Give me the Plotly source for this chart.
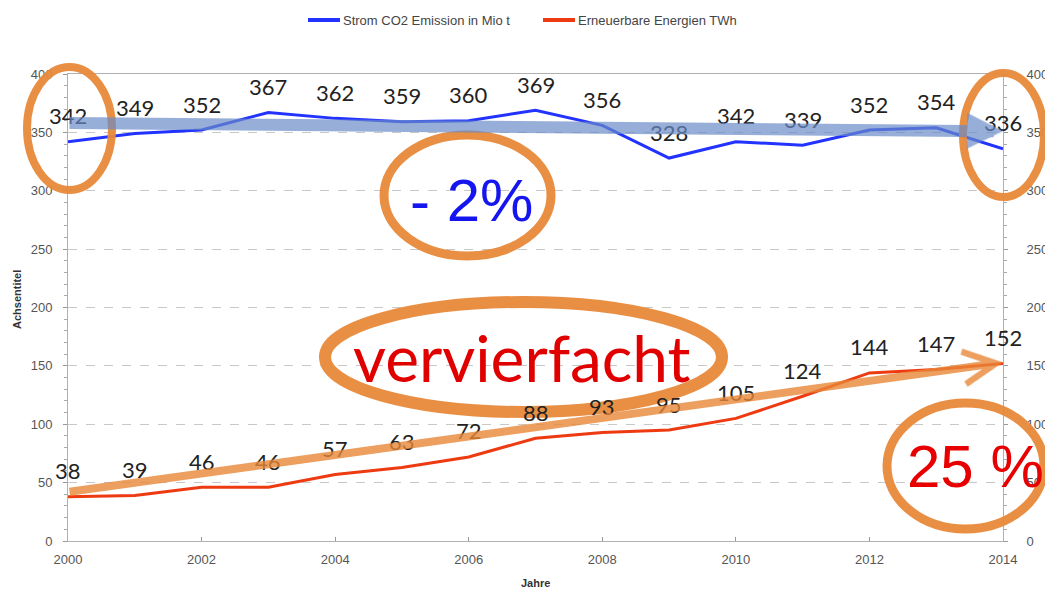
import plotly.graph_objects as go

years = list(range(2000, 2015))
co2 = [342, 349, 352, 367, 362, 359, 360, 369, 356, 328, 342, 339, 352, 354, 336]
renew = [38, 39, 46, 46, 57, 63, 72, 88, 93, 95, 105, 124, 144, 147, 152]
y_ticks = [0, 50, 100, 150, 200, 250, 300, 350, 400]
x_ticks = [2000, 2002, 2004, 2006, 2008, 2010, 2012, 2014]
series_names = ["Strom CO2 Emission in Mio t", "Erneuerbare Energien TWh"]
series_colors = ["#2233ff", "#ee3a10"]

# the page body has an 8px margin; the figure starts at (8, 8)
OFF = 8
W, H = 1053 - OFF, 590 - OFF
PL, PR, PT, PB = 68, 1003, 74, 541  # plot area in screen pixels
L, T = PL - OFF, PT - OFF
R, B = W + OFF - PR, H + OFF - PB
PW, PH = PR - PL, PB - PT


def px(xp):
    return (xp - PL) / PW


def py(yp):
    return (PB - yp) / PH


fig = go.Figure()
fig.add_trace(go.Scatter(x=years, y=co2, mode="lines", name=series_names[0],
                         line=dict(color=series_colors[0], width=3)))
fig.add_trace(go.Scatter(x=years, y=renew, mode="lines", name=series_names[1],
                         line=dict(color=series_colors[1], width=3)))
# invisible trace for right axis
fig.add_trace(go.Scatter(x=years, y=co2, yaxis="y2", mode="lines", showlegend=False,
                         line=dict(color="rgba(0,0,0,0)"), hoverinfo="skip"))

annotations = []
shapes = []


def label(xp, yp, text, font, **kw):
    d = dict(x=px(xp), y=py(yp), xref="paper", yref="paper", text=text, showarrow=False,
             xanchor="center", yanchor="middle", font=font)
    d.update(kw)
    annotations.append(d)


# manual legend
leg_font = dict(family="Liberation Sans, Arial, sans-serif", size=13, color="#444")
for (x0, x1), name, col in zip([(308, 340), (543, 575)], series_names, series_colors):
    shapes.append(dict(type="line", xref="paper", yref="paper", x0=px(x0), x1=px(x1), y0=py(20), y1=py(20),
                       line=dict(color=col, width=4)))
    label(x1 + 1, 20, name, leg_font, xanchor="left")

# data labels
for xv, yv in list(zip(years, co2)) + list(zip(years, renew)):
    annotations.append(dict(x=xv, y=yv, xref="x", yref="y", text=str(yv), showarrow=False,
                            xanchor="center", yanchor="middle", yshift=26,
                            font=dict(family="Lato, Open Sans, sans-serif", size=22, color="#222222")))

# arrows (trend)
annotations.append(dict(x=2014, y=351, ax=2000, ay=358, xref="x", yref="y", axref="x", ayref="y",
                        text="", showarrow=True, arrowhead=2, arrowsize=0.6, arrowwidth=12,
                        arrowcolor="rgba(105,140,200,0.7)"))
annotations.append(dict(x=2014, y=153, ax=2000, ay=42, xref="x", yref="y", axref="x", ayref="y",
                        text="", showarrow=True, arrowhead=5, arrowsize=0.8, arrowwidth=8,
                        arrowcolor="rgba(232,135,55,0.8)"))

# big texts
label(471, 200, "- 2%", dict(family="Liberation Sans, Arial, sans-serif", size=60, color="#1515f0"))
label(522, 358, "vervierfacht", dict(family="Lato, sans-serif", size=64, color="#e00000"))
label(975, 466, "25 %", dict(family="Liberation Sans, Arial, sans-serif", size=60, color="#e80000"))

# axis titles
title_font = dict(family="Liberation Sans Narrow, Liberation Sans, sans-serif", size=11, color="#333")
label(17, 300, "<b>Achsentitel</b>", title_font, textangle=-90)
label(535, 583, "<b>Jahre</b>", title_font)

ellipse_col = "rgba(232,137,58,0.95)"
for (x0, y0, x1, y1, w) in [(27, 67, 112, 190, 8), (963, 73, 1044, 197, 8), (384, 135, 551, 256, 9),
                            (325, 302, 722, 412, 12), (887, 403, 1044, 529, 9)]:
    shapes.append(dict(type="circle", xref="paper", yref="paper", x0=px(x0), x1=px(x1), y0=py(y0), y1=py(y1),
                       line=dict(color=ellipse_col, width=w), layer="above"))

tickfont = dict(family="Liberation Sans, Arial, sans-serif", size=13, color="#555")
yax = dict(range=[0, 400], tickvals=y_ticks, showgrid=True, gridcolor="#c8c8c8", griddash="dash", gridwidth=1,
           zeroline=False, showline=True, linecolor="#b0b0b0", linewidth=1, ticks="outside", ticklen=4,
           tickcolor="#999", tickfont=tickfont, fixedrange=True, ticklabelstandoff=8,
           minor=dict(dtick=10, ticks="outside", ticklen=3, tickcolor="#aaa", showgrid=False))

fig.update_layout(
    width=W, height=H, autosize=False,
    margin=dict(l=L, r=R, t=T, b=B, autoexpand=False),
    paper_bgcolor="white", plot_bgcolor="white",
    xaxis=dict(range=[2000, 2014], tickvals=x_ticks, showgrid=False, zeroline=False, showline=True,
               linecolor="#b0b0b0", linewidth=1, ticks="inside", ticklen=4, tickcolor="#999",
               tickfont=tickfont, mirror=True, ticklabelstandoff=6),
    yaxis=yax,
    yaxis2=dict(yax, overlaying="y", side="right", showgrid=False, ticklabelstandoff=16),
    showlegend=False,
    annotations=annotations,
    shapes=shapes,
)

fig.write_html("out.html")
